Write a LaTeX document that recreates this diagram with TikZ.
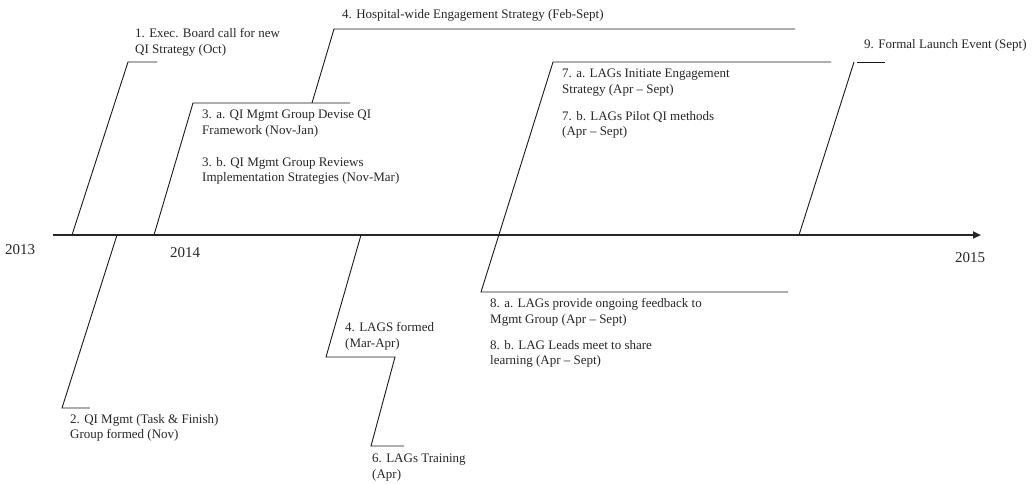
\documentclass[tikz,border=0pt]{standalone}
\usepackage{fontspec}
\setmainfont{Liberation Serif}
\usetikzlibrary{arrows.meta}

\begin{document}
\begin{tikzpicture}[x=1pt,y=-1pt]
  \tikzset{item/.style = {anchor=north west,inner sep=0pt,align=left,text=black!85,
      font=\fontsize{13}{15.7}\selectfont}}
  \tikzset{year/.style = {anchor=north west,inner sep=0pt,text=black!85,
      font=\fontsize{15}{18}\selectfont}}
  \tikzset{leg/.style = {line width=0.9pt,black!90}}
  \useasboundingbox (0,0) rectangle (1032,483);

  % time axis
  \coordinate (ax0) at (53,235);
  \coordinate (ax1) at (981,235);
  \draw[line width=2.6pt,black!85,-{Triangle[length=8pt,width=7pt]}] (ax0) -- (ax1);

  % points on the axis
  \coordinate (a1) at (72,235);
  \coordinate (a2) at (117,235);
  \coordinate (a3) at (154,235);
  \coordinate (a4) at (361,235);
  \coordinate (a9) at (799,235);

  % bends and ends
  \coordinate (c1) at (128,62);  \coordinate (e1) at (157,62);
  \coordinate (c3) at (193,103); \coordinate (e3) at (350,103);
  \coordinate (s4) at (312,103);
  \coordinate (c4) at (334,29);  \coordinate (e4) at (795,29);
  \coordinate (c7) at (553,62);  \coordinate (e7) at (831,62);
  \coordinate (c8) at (481,292); \coordinate (e8) at (788,292);
  \coordinate (c9) at (854,62);  \coordinate (h9) at (857,62);
  \coordinate (e9) at (885,62);
  \coordinate (c2) at (62,408);  \coordinate (e2) at (90,408);
  \coordinate (c5) at (326,357); \coordinate (d5) at (395,357);
  \coordinate (c6) at (371,446); \coordinate (e6) at (404,446);

  \foreach \from/\via/\to in {a1/c1/e1, a3/c3/e3, s4/c4/e4, a2/c2/e2}
    \draw[leg] (\from) -- (\via) -- (\to);
  \draw[leg] (a9) -- (c9);
  \draw[leg] (h9) -- (e9);
  \draw[leg] (e7) -- (c7) -- (c8) -- (e8);
  \draw[leg] (a4) -- (c5) -- (d5) -- (c6) -- (e6);

  % years
  \node[year] (y13) at (5,244) {2013};
  \node[year] (y14) at (170,247) {2014};
  \node[year] (y15) at (955,252) {2015};

  % events above
  \node[item] (t1) at (135,28) {1. Exec. Board call for new\\QI Strategy (Oct)};
  \node[item] (t4) at (342,9) {4. Hospital-wide Engagement Strategy (Feb-Sept)};
  \node[item] (t3a) at (202,110) {3. a. QI Mgmt Group Devise QI\\Framework (Nov-Jan)};
  \node[item] (t3b) at (202,157) {3. b. QI Mgmt Group Reviews\\Implementation Strategies (Nov-Mar)};
  \node[item] (t7a) at (562,69) {7. a. LAGs Initiate Engagement\\Strategy (Apr -- Sept)};
  \node[item] (t7b) at (562,111) {7. b. LAGs Pilot QI methods\\(Apr -- Sept)};
  \node[item] (t9) at (864,39) {9. Formal Launch Event (Sept)};

  % events below
  \node[item] (t2) at (70,414) {2. QI Mgmt (Task \& Finish)\\Group formed (Nov)};
  \node[item] (t5) at (345,322) {4. LAGS formed\\(Mar-Apr)};
  \node[item] (t6) at (372,454) {6. LAGs Training\\(Apr)};
  \node[item] (t8a) at (490,298) {8. a. LAGs provide ongoing feedback to\\Mgmt Group (Apr -- Sept)};
  \node[item] (t8b) at (490,340) {8. b. LAG Leads meet to share\\learning (Apr -- Sept)};
\end{tikzpicture}
\end{document}
